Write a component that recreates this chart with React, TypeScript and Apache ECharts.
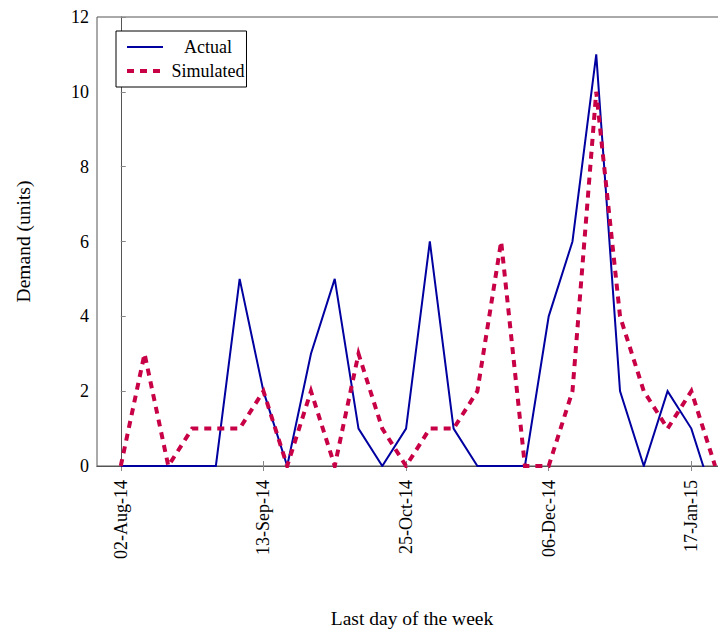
import React, { useEffect, useRef } from "react";
import * as echarts from "echarts";

const weeks = [
  "02-Aug-14", "09-Aug-14", "16-Aug-14", "23-Aug-14", "30-Aug-14", "06-Sep-14",
  "13-Sep-14", "20-Sep-14", "27-Sep-14", "04-Oct-14", "11-Oct-14", "18-Oct-14",
  "25-Oct-14", "01-Nov-14", "08-Nov-14", "15-Nov-14", "22-Nov-14", "29-Nov-14",
  "06-Dec-14", "13-Dec-14", "20-Dec-14", "27-Dec-14", "03-Jan-15", "10-Jan-15",
  "17-Jan-15", "24-Jan-15",
];
const actual = [0, 0, 0, 0, 0, 5, 2, 0, 3, 5, 1, 0, 1, 6, 1, 0, 0, 0, 4, 6, 11, 2, 0, 2, 1, -1];
const simulated = [0, 3, 0, 1, 1, 1, 2, 0, 2, 0, 3, 1, 0, 1, 1, 2, 6, 0, 0, 2, 10, 4, 2, 1, 2, 0];
const labelWeeks = [0, 6, 12, 18, 24];
const yTicks = { min: 0, max: 12, interval: 2 };

const FONT = "'Liberation Serif', 'Times New Roman', serif";
const BLUE = "#0000a0";
const RED = "#c80046";
const DASH = [7, 6];

export default function App() {
  const ref = useRef<HTMLDivElement>(null);
  useEffect(() => {
    if (!ref.current) return;
    const chart = echarts.init(ref.current, undefined, { renderer: "svg" });
    const tickStyle = { show: true, inside: true, length: 5, lineStyle: { color: "#888", width: 1 } };
    chart.setOption({
      animation: false,
      backgroundColor: "#fff",
      grid: {
        left: 97,
        top: 17,
        width: 630,
        height: 449,
        show: true,
        borderColor: "#555",
        borderWidth: 1,
        containLabel: false,
        outerBoundsMode: "none",
      },
      legend: {
        orient: "vertical",
        left: 116,
        top: 31,
        padding: [7, 2, 7, 9],
        itemGap: 6,
        itemWidth: 36,
        itemHeight: 18,
        backgroundColor: "#fff",
        borderColor: "#000",
        borderWidth: 1,
        borderRadius: 0,
        itemStyle: { opacity: 0 },
        formatter: (name: string) => `{c|${name}}`,
        textStyle: {
          fontFamily: FONT,
          fontSize: 18,
          color: "#000",
          rich: { c: { width: 80, align: "center", fontFamily: FONT, fontSize: 18, color: "#000" } },
        },
        data: [
          { name: "Actual", itemStyle: { opacity: 0 }, lineStyle: { color: BLUE, width: 2 } },
          { name: "Simulated", itemStyle: { opacity: 0 }, lineStyle: { color: RED, width: 4, type: DASH, cap: "butt" } },
        ],
      },
      xAxis: [
        {
          type: "value",
          min: -1,
          max: 25.5,
          position: "bottom",
          splitLine: { show: false },
          axisLine: { show: true, onZero: false, lineStyle: { color: "#555", width: 1 } },
          axisTick: { ...tickStyle, customValues: labelWeeks },
          axisLabel: {
            customValues: labelWeeks,
            rotate: 90,
            margin: 14,
            fontFamily: FONT,
            fontSize: 18,
            color: "#000",
            formatter: (v: number) => weeks[Math.round(v)] ?? "",
          },
          name: "Last day of the week",
          nameLocation: "middle",
          nameGap: 142,
          nameTextStyle: { fontFamily: FONT, fontSize: 19.5, color: "#000" },
        },
        {
          type: "value",
          min: -1,
          max: 25.5,
          position: "top",
          splitLine: { show: false },
          axisLine: { show: true, lineStyle: { color: "#555", width: 1 } },
          axisTick: { ...tickStyle, customValues: labelWeeks },
          axisLabel: { show: false },
        },
      ],
      yAxis: {
        type: "value",
        min: yTicks.min,
        max: yTicks.max,
        interval: yTicks.interval,
        splitLine: { show: false },
        axisLine: { show: true, lineStyle: { color: "#555", width: 1 } },
        axisTick: tickStyle,
        axisLabel: { margin: 8, fontFamily: FONT, fontSize: 18, color: "#000" },
        name: "Demand (units)",
        nameLocation: "middle",
        nameGap: 64,
        nameTextStyle: { fontFamily: FONT, fontSize: 19.5, color: "#000" },
      },
      series: [
        {
          name: "Actual",
          type: "line",
          symbol: "none",
          clip: true,
          data: actual.map((v, i) => [i, v]),
          lineStyle: { color: BLUE, width: 2, join: "miter" },
          itemStyle: { color: BLUE },
        },
        {
          name: "Simulated",
          type: "line",
          symbol: "none",
          clip: true,
          data: simulated.map((v, i) => [i, v]),
          lineStyle: { color: RED, width: 4, type: DASH, cap: "butt", join: "miter" },
          itemStyle: { color: RED },
        },
      ],
    });
    return () => chart.dispose();
  }, []);
  return (
    <div
      ref={ref}
      style={{ position: "fixed", left: 0, top: 0, width: 718, height: 630, background: "#fff" }}
    />
  );
}
